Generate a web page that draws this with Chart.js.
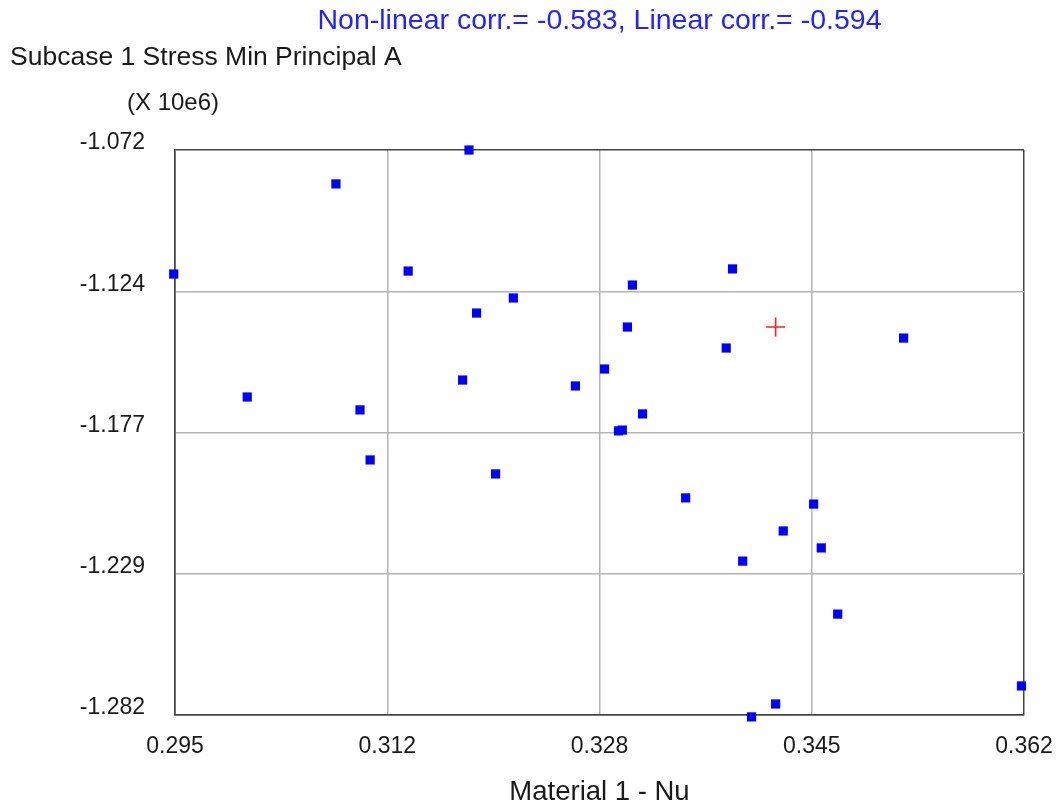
<!DOCTYPE html>
<html>
<head>
<meta charset="utf-8">
<script src="https://cdn.jsdelivr.net/npm/chart.js@4/dist/chart.umd.min.js"></script>
<style>
  html, body { margin: 0; padding: 0; background: #fff; }
  #wrap { width: 1058px; height: 805px; }
</style>
</head>
<body>
<div id="wrap"><canvas id="scatter" width="1058" height="805"></canvas></div>
<script>
(() => {
  'use strict';

  // Material 1 - Nu vs Subcase 1 Stress Min Principal A (x 10e6)
  const nuValues = [
    0.2949, 0.3007, 0.3077, 0.3096, 0.3104, 0.3134, 0.3177, 0.3182, 0.3188, 0.3203,
    0.3217, 0.3266, 0.3289, 0.3300, 0.3303, 0.3307, 0.3311, 0.3319, 0.3353, 0.3385,
    0.3390, 0.3398, 0.3405, 0.3424, 0.3430, 0.3454, 0.3460, 0.3473, 0.3525, 0.3618
  ];
  const stressValues = [
    -1.1181, -1.1638, -1.0846, -1.1686, -1.1872, -1.1170, -1.1575, -1.0720, -1.1326, -1.1924,
    -1.1270, -1.1597, -1.1534, -1.1764, -1.1761, -1.1378, -1.1222, -1.1701, -1.2013, -1.1456,
    -1.1162, -1.2248, -1.2827, -1.2779, -1.2136, -1.2036, -1.2199, -1.2445, -1.1419, -1.2712
  ];
  // nominal (baseline) run
  const nominalNu = [0.3424];
  const nominalStress = [-1.1378];

  const xTickValues = [0.295, 0.31175, 0.3285, 0.34525, 0.362];
  const xTickLabels = ['0.295', '0.312', '0.328', '0.345', '0.362'];
  const yTickValues = [-1.072, -1.1245, -1.177, -1.2295, -1.282];
  const yTickLabels = ['-1.072', '-1.124', '-1.177', '-1.229', '-1.282'];

  const corrText = 'Non-linear corr.= -0.583, Linear corr.= -0.594';
  const yTitle = 'Subcase 1 Stress Min Principal A';
  const yUnit = '(X 10e6)';
  const xTitle = 'Material 1 - Nu';

  const FONT = '"Liberation Sans", Arial, sans-serif';
  const TEXT = '#1a1a1a';

  const toPoints = (xs, ys) => xs.map((x, i) => ({ x, y: ys[i] }));

  const frameColor = c => (c.index === 0 || c.index === 4) ? '#444' : '#b4b4b4';

  const textPlugin = {
    id: 'extraText',
    afterDraw(chart) {
      const { ctx, chartArea } = chart;
      const mid = (chartArea.left + chartArea.right) / 2;
      ctx.save();
      ctx.textBaseline = 'middle';
      ctx.font = '28.5px ' + FONT;
      ctx.fillStyle = '#2323ff';
      ctx.textAlign = 'center';
      ctx.fillText(corrText, mid, 21);
      ctx.fillStyle = TEXT;
      ctx.textAlign = 'left';
      ctx.font = '26.5px ' + FONT;
      ctx.fillText(yTitle, 10, 58);
      ctx.font = '24px ' + FONT;
      ctx.fillText(yUnit, 127, 103);
      ctx.font = '27.5px ' + FONT;
      ctx.textAlign = 'center';
      ctx.fillText(xTitle, mid, 792);
      ctx.restore();
    }
  };

  new Chart(document.getElementById('scatter'), {
    type: 'scatter',
    data: {
      datasets: [
        {
          label: 'runs',
          data: toPoints(nuValues, stressValues),
          pointStyle: 'rect',
          pointRadius: 6.5,
          pointHoverRadius: 6.5,
          backgroundColor: '#0000ff',
          borderColor: '#0000ff',
          borderWidth: 0,
          clip: false
        },
        {
          label: 'nominal',
          data: toPoints(nominalNu, nominalStress),
          pointStyle: 'cross',
          pointRadius: 9.5,
          borderColor: '#ff2020',
          borderWidth: 1.6,
          clip: false
        }
      ]
    },
    options: {
      responsive: false,
      animation: false,
      events: [],
      layout: { padding: { top: 150, right: 34, left: 0, bottom: 0 } },
      plugins: {
        legend: { display: false },
        tooltip: { enabled: false }
      },
      scales: {
        x: {
          type: 'linear',
          min: 0.295,
          max: 0.362,
          afterBuildTicks: s => { s.ticks = xTickValues.map(v => ({ value: v })); },
          afterFit: s => { s.height = 90; s.paddingLeft = 0; s.paddingRight = 0; },
          ticks: {
            callback: (v, i) => xTickLabels[i],
            color: TEXT,
            font: { family: FONT, size: 23 },
            padding: 18,
            maxRotation: 0,
            autoSkip: false
          },
          grid: { color: frameColor, lineWidth: 1.5, drawTicks: false },
          border: { color: '#444', width: 1.5 }
        },
        y: {
          type: 'linear',
          min: -1.282,
          max: -1.072,
          afterBuildTicks: s => { s.ticks = yTickValues.map(v => ({ value: v })); },
          afterFit: s => { s.width = 175; s.paddingTop = 0; s.paddingBottom = 0; },
          ticks: {
            callback: (v, i) => yTickLabels[i],
            color: TEXT,
            font: { family: FONT, size: 23 },
            padding: 30,
            labelOffset: -7,
            autoSkip: false
          },
          grid: { color: frameColor, lineWidth: 1.5, drawTicks: false },
          border: { color: '#444', width: 1.5 }
        }
      }
    },
    plugins: [textPlugin]
  });
})();
</script>
</body>
</html>
